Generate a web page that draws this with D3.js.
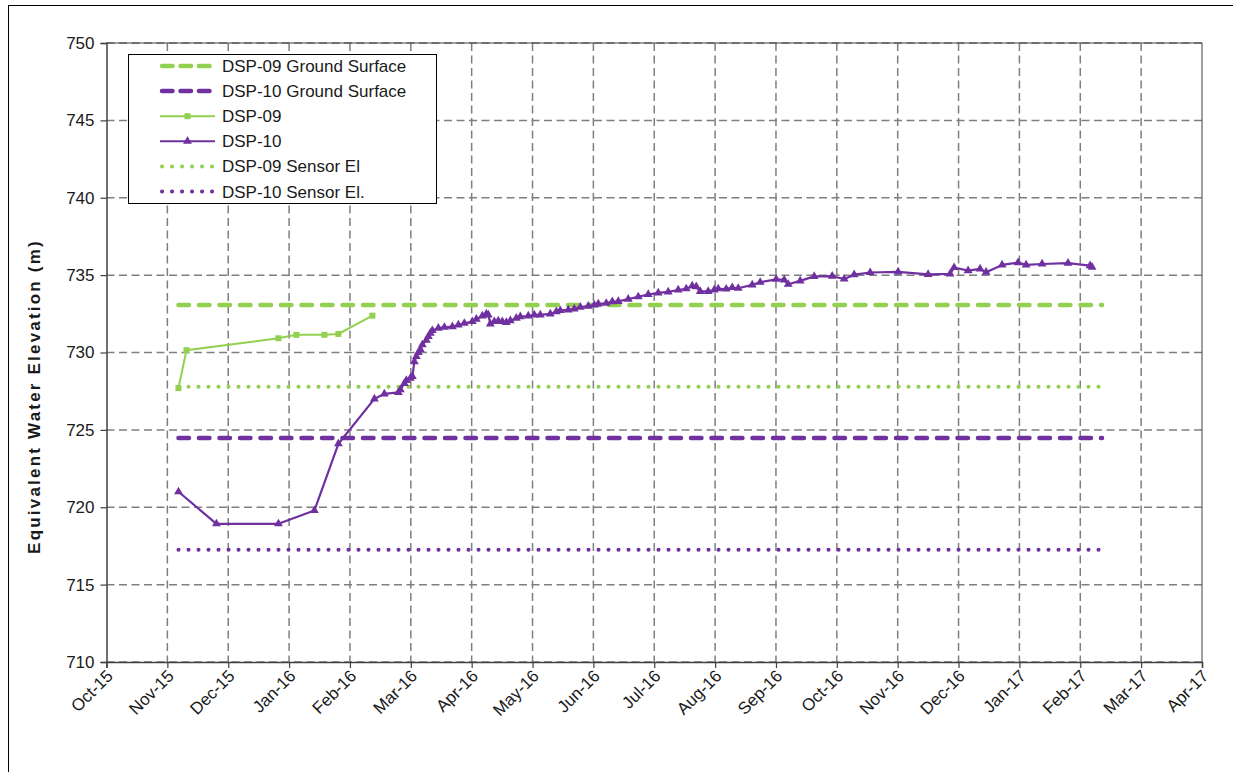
<!DOCTYPE html>
<html>
<head>
<meta charset="utf-8">
<script src="https://cdn.jsdelivr.net/npm/d3@7"></script>
<style>
  html, body { margin: 0; padding: 0; background: #fff; }
  svg { display: block; font-family: "Liberation Sans", Arial, sans-serif; }
</style>
</head>
<body>
<svg id="chart" width="1233" height="772"></svg>
<script>
// Axis labels
const monthLabels = ["Oct-15","Nov-15","Dec-15","Jan-16","Feb-16","Mar-16","Apr-16","May-16","Jun-16",
  "Jul-16","Aug-16","Sep-16","Oct-16","Nov-16","Dec-16","Jan-17","Feb-17","Mar-17","Apr-17"];
const yTicks = [710, 715, 720, 725, 730, 735, 740, 745, 750];

// Reference elevations (m), drawn as flat lines over the monitoring period
const refPeriod = ["2015-11-06", "2017-02-10"];
const dsp09Ground = 733.07;
const dsp10Ground = 724.48;
const dsp09Sensor = 727.78;
const dsp10Sensor = 717.25;

// DSP-09 equivalent water elevation (m)
const dsp09 = [
  ["2015-11-06", 727.70], ["2015-11-10", 730.15], ["2015-12-26", 730.92], ["2016-01-04", 731.14],
  ["2016-01-18", 731.14], ["2016-01-25", 731.20], ["2016-02-11", 732.38]
];

// DSP-10 equivalent water elevation (m)
const dsp10 = [
  ["2015-11-06", 721.00], ["2015-11-25", 718.93], ["2015-12-26", 718.93], ["2016-01-13", 719.79],
  ["2016-01-25", 724.10], ["2016-02-12", 727.00], ["2016-02-17", 727.33], ["2016-02-24", 727.42],
  ["2016-02-25", 727.60], ["2016-02-27", 728.00], ["2016-02-28", 728.20], ["2016-03-01", 728.34],
  ["2016-03-02", 728.45], ["2016-03-03", 729.40], ["2016-03-04", 729.74], ["2016-03-05", 730.00],
  ["2016-03-06", 730.20], ["2016-03-07", 730.50], ["2016-03-09", 730.80], ["2016-03-10", 731.03],
  ["2016-03-11", 731.25], ["2016-03-12", 731.42], ["2016-03-15", 731.57], ["2016-03-18", 731.63],
  ["2016-03-22", 731.67], ["2016-03-25", 731.78], ["2016-03-28", 731.89], ["2016-04-01", 732.00],
  ["2016-04-03", 732.15], ["2016-04-06", 732.36], ["2016-04-08", 732.49], ["2016-04-09", 732.43],
  ["2016-04-10", 731.85], ["2016-04-12", 732.00], ["2016-04-14", 732.05], ["2016-04-16", 732.00],
  ["2016-04-18", 731.95], ["2016-04-20", 732.06], ["2016-04-23", 732.22], ["2016-04-25", 732.32],
  ["2016-04-29", 732.36], ["2016-05-02", 732.43], ["2016-05-05", 732.43], ["2016-05-10", 732.49],
  ["2016-05-13", 732.64], ["2016-05-15", 732.71], ["2016-05-19", 732.75], ["2016-05-22", 732.82],
  ["2016-05-25", 732.93], ["2016-05-29", 733.00], ["2016-06-01", 733.07], ["2016-06-03", 733.14],
  ["2016-06-07", 733.18], ["2016-06-10", 733.29], ["2016-06-13", 733.30], ["2016-06-18", 733.45],
  ["2016-06-23", 733.60], ["2016-06-28", 733.75], ["2016-07-03", 733.85], ["2016-07-08", 733.92],
  ["2016-07-13", 734.04], ["2016-07-17", 734.12], ["2016-07-20", 734.30], ["2016-07-22", 734.25],
  ["2016-07-24", 733.95], ["2016-07-28", 733.95], ["2016-07-31", 734.04], ["2016-08-02", 734.12],
  ["2016-08-06", 734.10], ["2016-08-09", 734.20], ["2016-08-12", 734.15], ["2016-08-19", 734.37],
  ["2016-08-23", 734.54], ["2016-08-31", 734.73], ["2016-09-04", 734.69], ["2016-09-06", 734.41],
  ["2016-09-12", 734.63], ["2016-09-19", 734.92], ["2016-09-28", 734.93], ["2016-10-04", 734.75],
  ["2016-10-09", 735.03], ["2016-10-17", 735.17], ["2016-10-31", 735.21], ["2016-11-15", 735.05],
  ["2016-11-26", 735.08], ["2016-11-28", 735.49], ["2016-12-05", 735.29], ["2016-12-11", 735.40],
  ["2016-12-14", 735.19], ["2016-12-22", 735.66], ["2016-12-30", 735.81], ["2017-01-03", 735.66],
  ["2017-01-11", 735.72], ["2017-01-24", 735.77], ["2017-02-04", 735.61], ["2017-02-05", 735.51]
];

const GREEN = "#92d050";
const PURPLE = "#7030a0";
const GRID = "#7f7f7f";
const TEXT = "#1a1a1a";

const parse = d3.timeParse("%Y-%m-%d");
const svg = d3.select("#chart");

// Outer chart frame
svg.append("rect").attr("x", 8.5).attr("y", 5.5).attr("width", 1240).attr("height", 800)
  .attr("fill", "#fff").attr("stroke", "#000").attr("stroke-width", 1);

const plot = { left: 106.5, right: 1202, top: 43, bottom: 662 };

const x = d3.scaleTime()
  .domain([parse("2015-10-01"), parse("2017-04-01")])
  .range([plot.left, plot.right]);
const y = d3.scaleLinear().domain([710, 750]).range([plot.bottom, plot.top]);

// Month ticks spaced evenly across the axis
const tickDates = monthLabels.map((_, i) =>
  new Date(+x.domain()[0] + i * (x.domain()[1] - x.domain()[0]) / (monthLabels.length - 1)));

// Gridlines
const grid = svg.append("g").attr("stroke", GRID).attr("stroke-width", 1.5)
  .attr("stroke-dasharray", "8,4.5").attr("fill", "none");
grid.selectAll(".gv").data(tickDates.slice(1, -1)).join("line")
  .attr("x1", d => x(d)).attr("x2", d => x(d)).attr("y1", plot.top).attr("y2", plot.bottom);
grid.selectAll(".gh").data(yTicks).join("line")
  .attr("x1", plot.left).attr("x2", plot.right).attr("y1", d => y(d)).attr("y2", d => y(d));

// Plot area border (right side and top)
svg.append("path")
  .attr("d", `M${plot.left},${plot.top}H${plot.right}V${plot.bottom}`)
  .attr("fill", "none").attr("stroke", "#404040").attr("stroke-width", 1);

// Axes
const xAxis = svg.append("g").attr("transform", `translate(0,${plot.bottom})`)
  .call(d3.axisBottom(x).tickValues(tickDates).tickFormat((d, i) => monthLabels[i]).tickSizeOuter(0).tickSize(6));
xAxis.select(".domain").attr("stroke", "#404040").attr("stroke-width", 1.5);
xAxis.selectAll(".tick line").attr("stroke", "#404040").attr("stroke-width", 1.2);
xAxis.selectAll(".tick text")
  .attr("font-size", 17).attr("fill", TEXT)
  .attr("text-anchor", "end")
  .attr("x", 0).attr("y", 0).attr("dy", 0)
  .attr("transform", "translate(7,15) rotate(-45)");

const yAxis = svg.append("g").attr("transform", `translate(${plot.left},0)`)
  .call(d3.axisLeft(y).tickValues(yTicks).tickFormat(d3.format("d")).tickSizeOuter(0).tickSize(6));
yAxis.select(".domain").attr("stroke", "#404040").attr("stroke-width", 1.5);
yAxis.selectAll(".tick line").attr("stroke", "#404040").attr("stroke-width", 1.2);
yAxis.selectAll(".tick text").attr("font-size", 17).attr("fill", TEXT).attr("x", -12);

svg.append("text")
  .attr("transform", `translate(40,${(plot.top + plot.bottom) / 2 + 44}) rotate(-90)`)
  .attr("text-anchor", "middle")
  .attr("font-size", 17).attr("font-weight", "bold").attr("fill", TEXT)
  .attr("letter-spacing", 2.2)
  .text("Equivalent Water Elevation (m)");

// Series
const line = d3.line().x(d => x(parse(d[0]))).y(d => y(d[1]));
const flat = v => refPeriod.map(t => [t, v]);

const refStyles = [
  { v: dsp09Ground, c: GREEN, w: 4.5, dash: "10.5,10", cap: "round" },
  { v: dsp10Ground, c: PURPLE, w: 4.5, dash: "10.5,10", cap: "round" },
  { v: dsp09Sensor, c: GREEN, w: 4, dash: "0.1,9.9", cap: "round" },
  { v: dsp10Sensor, c: PURPLE, w: 4, dash: "0.1,9.9", cap: "round" }
];
svg.append("g").selectAll("path").data(refStyles).join("path")
  .attr("d", d => line(flat(d.v)))
  .attr("fill", "none").attr("stroke", d => d.c).attr("stroke-width", d => d.w)
  .attr("stroke-dasharray", d => d.dash).attr("stroke-linecap", d => d.cap);

svg.append("path").attr("d", line(dsp09)).attr("fill", "none")
  .attr("stroke", GREEN).attr("stroke-width", 2);
svg.append("g").selectAll("rect").data(dsp09).join("rect")
  .attr("x", d => x(parse(d[0])) - 3).attr("y", d => y(d[1]) - 3)
  .attr("width", 6).attr("height", 6).attr("fill", GREEN);

svg.append("path").attr("d", line(dsp10)).attr("fill", "none")
  .attr("stroke", PURPLE).attr("stroke-width", 2.2).attr("stroke-linejoin", "round");
const tri = d3.symbol().type(d3.symbolTriangle).size(34);
svg.append("g").selectAll("path").data(dsp10).join("path")
  .attr("transform", d => `translate(${x(parse(d[0]))},${y(d[1])})`)
  .attr("d", tri).attr("fill", PURPLE);

// Legend
const lg = svg.append("g");
lg.append("rect").attr("x", 128.5).attr("y", 54.5).attr("width", 308).attr("height", 149)
  .attr("fill", "#fff").attr("stroke", "#000").attr("stroke-width", 1);
const legendItems = [
  { label: "DSP-09 Ground Surface", c: GREEN, w: 4.5, dash: "10.5,8", marker: null },
  { label: "DSP-10 Ground Surface", c: PURPLE, w: 4.5, dash: "10.5,8", marker: null },
  { label: "DSP-09", c: GREEN, w: 2, dash: null, marker: "square" },
  { label: "DSP-10", c: PURPLE, w: 2, dash: null, marker: "triangle" },
  { label: "DSP-09 Sensor El", c: GREEN, w: 4, dash: "0.1,9.9", marker: null },
  { label: "DSP-10 Sensor El.", c: PURPLE, w: 4, dash: "0.1,9.9", marker: null }
];
const rows = lg.selectAll(".item").data(legendItems).join("g")
  .attr("transform", (d, i) => `translate(0,${66 + i * 25.1})`);
rows.append("line").attr("x1", d => d.dash ? 162 : 160).attr("x2", d => d.dash ? 213 : 215)
  .attr("y1", 0).attr("y2", 0)
  .attr("stroke", d => d.c).attr("stroke-width", d => d.w)
  .attr("stroke-dasharray", d => d.dash).attr("stroke-linecap", d => d.dash ? "round" : "butt");
rows.filter(d => d.marker === "square").append("rect")
  .attr("x", 184.5).attr("y", -3).attr("width", 6).attr("height", 6).attr("fill", GREEN);
rows.filter(d => d.marker === "triangle").append("path")
  .attr("transform", "translate(187.5,0)").attr("d", tri).attr("fill", PURPLE);
rows.append("text").attr("x", 222).attr("y", 6)
  .attr("font-size", 17).attr("fill", TEXT).text(d => d.label);
</script>
</body>
</html>
